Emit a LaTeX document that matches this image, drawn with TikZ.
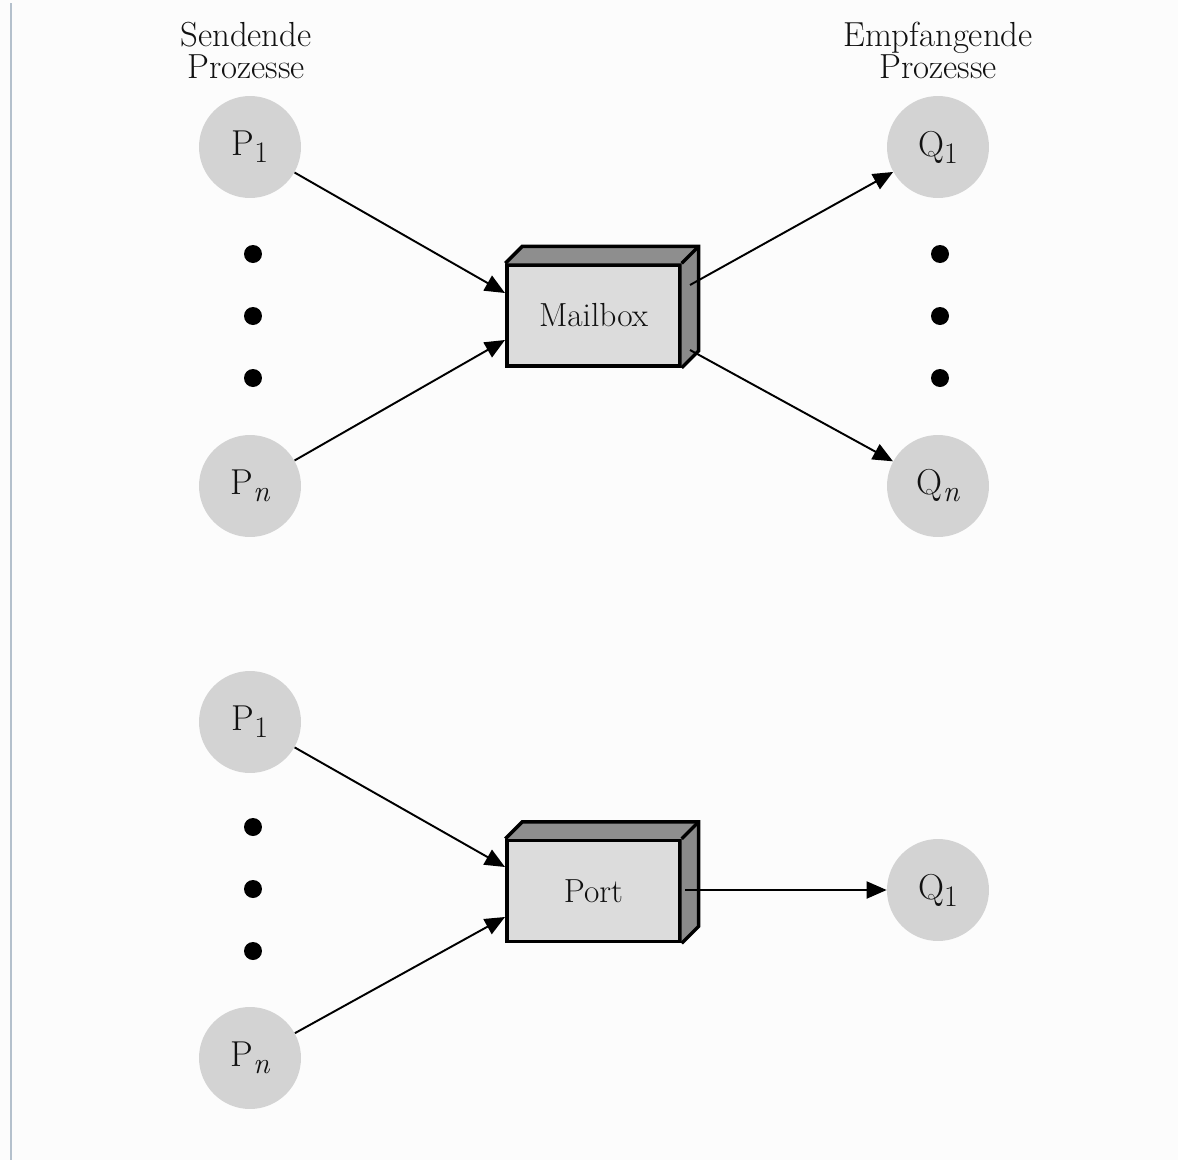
\documentclass[tikz,border=0pt]{standalone}
\usetikzlibrary{arrows.meta}
\definecolor{bg}{HTML}{FCFCFC}
\definecolor{edgeline}{HTML}{B4C0CC}
\definecolor{proc}{HTML}{D3D3D3}
\definecolor{boxfront}{HTML}{DCDCDC}
\definecolor{boxtop}{HTML}{8E8E8E}
\definecolor{boxside}{HTML}{8A8A8A}
\definecolor{ink}{HTML}{111111}
\newcommand{\sub}[1]{\raisebox{-0.45ex}{\fontsize{17}{17}\selectfont #1}}
\tikzset{
  proc/.style={circle, fill=proc, minimum size=2.04cm, inner sep=0pt,
    text=ink, font=\fontsize{20.5}{22}\selectfont},
  dot/.style={circle, fill=black, minimum size=0.36cm, inner sep=0pt},
  boxface/.style={rectangle, draw=black, line width=2pt, fill=boxfront,
    minimum width=3.46cm, minimum height=2.02cm, inner sep=0pt,
    text=ink, font=\fontsize{19}{21}\selectfont},
  depth/.style={draw=black, line width=2pt, line join=miter},
  msg/.style={line width=1.1pt, -{Triangle[length=0.4cm, width=0.34cm]}},
  head/.style={align=center, text=ink, font=\fontsize{19.8}{18.2}\selectfont}
}
% draws the top and right faces of a 3d box behind node #1
\newcommand{\boxdepth}[1]{%
  \fill[boxtop] (#1.north west) -- ++(0.34cm,0.34cm) -- ([shift={(0.34cm,0.34cm)}]#1.north east) -- (#1.north east) -- cycle;
  \fill[boxside] (#1.north east) -- ++(0.34cm,0.34cm) -- ([shift={(0.34cm,0.34cm)}]#1.south east) -- (#1.south east) -- cycle;
  \draw[depth] (#1.north west) -- ++(0.34cm,0.34cm) -- ([shift={(0.34cm,0.34cm)}]#1.north east) -- ([shift={(0.34cm,0.34cm)}]#1.south east) -- (#1.south east);
  \draw[depth] (#1.north east) -- ++(0.34cm,0.34cm);
}
\begin{document}
\begin{tikzpicture}[x=0.02cm, y=-0.02cm]
\useasboundingbox (0,0) rectangle (1178,1160);
\fill[bg] (0,0) rectangle (1178,1160);
\draw[edgeline, line width=1.6pt] (11,3) -- (11,1160);

% headers
\node[head] (hs) at (246,50) {Sendende\\Prozesse};
\node[head] (he) at (938,50) {Empfangende\\Prozesse};

% ---- mailbox ----
\node[proc] (p1) at (250,147) {P\sub{1}};
\node[proc] (pn) at (250,486) {P\sub{\itshape n}};
\node[proc] (q1) at (938,147) {Q\sub{1}};
\node[proc] (qn) at (938,486) {Q\sub{\itshape n}};
\foreach \y [count=\i] in {254,316,378} {
  \node[dot] (ld\i) at (253,\y) {};
  \node[dot] (rd\i) at (940,\y) {};
}
\node[boxface] (mb) at (593.5,315.5) {Mailbox};
\boxdepth{mb}
\coordinate (mbin1) at (505,293);
\coordinate (mbin2) at (505,340);
\coordinate (mbout1) at (690,285);
\coordinate (mbout2) at (690,350);
\draw[msg] (p1) -- (mbin1);
\draw[msg] (pn) -- (mbin2);
\draw[msg] (mbout1) -- (q1);
\draw[msg] (mbout2) -- (qn);

% ---- port ----
\node[proc] (pp1) at (250,722) {P\sub{1}};
\node[proc] (ppn) at (250,1058) {P\sub{\itshape n}};
\node[proc] (pq1) at (938,890) {Q\sub{1}};
\foreach \y [count=\i] in {827,889,951} {
  \node[dot] (pd\i) at (253,\y) {};
}
\node[boxface] (pt) at (593.5,891) {Port};
\boxdepth{pt}
\coordinate (ptin1) at (505,867);
\coordinate (ptin2) at (505,917);
\coordinate (ptout) at (685,890);
\draw[msg] (pp1) -- (ptin1);
\draw[msg] (ppn) -- (ptin2);
\draw[msg] (ptout) -- (pq1);
\end{tikzpicture}
\end{document}
